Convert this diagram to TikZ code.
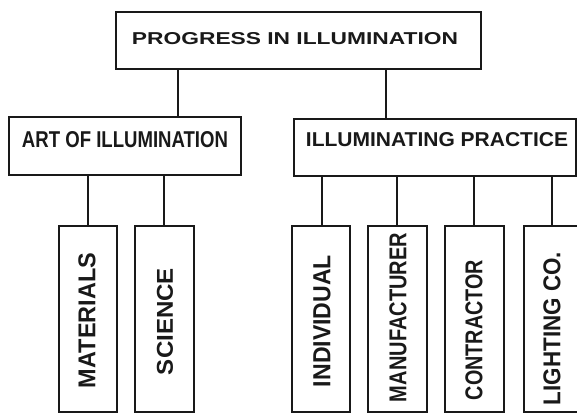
\documentclass[tikz,border=0pt]{standalone}
\usepackage{graphicx}
\usepackage{fontspec}
\setmainfont{Liberation Sans}
\tikzset{
  box/.style={draw=black!90, line width=1.8pt, rectangle, inner sep=0pt, fill=none},
  conn/.style={draw=black!90, line width=1.8pt},
  lbl/.style={inner sep=0pt, text=black!90, font=\bfseries},
  vlbl/.style={lbl, rotate=90}
}
\newcommand{\fitt}[3]{\resizebox{#1pt}{#2pt}{#3}}
\begin{document}
\begin{tikzpicture}[x=1pt,y=-1pt]
\useasboundingbox (0,0) rectangle (577,414);
\clip (0,0) rectangle (577,414);
\fill[white] (0,0) rectangle (577,414);
% boxes
\node[box, minimum width=365pt, minimum height=57pt] (top) at (298.5,40.5) {};
\node[box, minimum width=231.5pt, minimum height=58pt] (art) at (125,146) {};
\node[box, minimum width=282pt, minimum height=57pt] (prac) at (435,147.5) {};
\node[box, minimum width=58pt, minimum height=186pt] (mat) at (88,319) {};
\node[box, minimum width=59pt, minimum height=186pt] (sci) at (164.5,319) {};
\node[box, minimum width=58pt, minimum height=186pt] (ind) at (321,319) {};
\node[box, minimum width=59pt, minimum height=186pt] (man) at (397.5,319) {};
\node[box, minimum width=59pt, minimum height=186pt] (con) at (474.5,319) {};
\node[box, minimum width=56pt, minimum height=186pt] (lig) at (552,319) {};
% texts
\node[lbl] (ttop) at (295,39) {\fitt{326}{12}{PROGRESS IN ILLUMINATION}};
\node[lbl] (tart) at (125,140) {\fitt{206}{16}{ART OF ILLUMINATION}};
\node[lbl] (tprac) at (437,140) {\fitt{262}{14}{ILLUMINATING PRACTICE}};
\node[vlbl] (tmat) at (87,320.5) {\fitt{135}{17}{MATERIALS}};
\node[vlbl] (tsci) at (165,321.5) {\fitt{107}{16}{SCIENCE}};
\node[vlbl] (tind) at (322,321) {\fitt{132}{17}{INDIVIDUAL}};
\node[vlbl] (tman) at (398,317.5) {\fitt{169}{17}{MANUFACTURER}};
\node[vlbl] (tcon) at (474,330) {\fitt{140}{17}{CONTRACTOR}};
\node[vlbl] (tlig) at (552,328.5) {\fitt{153}{17}{LIGHTING CO.}};
% connector positions
\coordinate (xa) at (178,0);
\coordinate (xb) at (386,0);
\coordinate (xc) at (88,0);
\coordinate (xd) at (164,0);
\coordinate (xe) at (322,0);
\coordinate (xf) at (397,0);
\coordinate (xg) at (474,0);
\coordinate (xh) at (552,0);
% connectors
\draw[conn] (top.south -| xa) -- (art.north -| xa);
\draw[conn] (top.south -| xb) -- (prac.north -| xb);
\draw[conn] (art.south -| xc) -- (mat.north -| xc);
\draw[conn] (art.south -| xd) -- (sci.north -| xd);
\draw[conn] (prac.south -| xe) -- (ind.north -| xe);
\draw[conn] (prac.south -| xf) -- (man.north -| xf);
\draw[conn] (prac.south -| xg) -- (con.north -| xg);
\draw[conn] (prac.south -| xh) -- (lig.north -| xh);
\end{tikzpicture}
\end{document}
